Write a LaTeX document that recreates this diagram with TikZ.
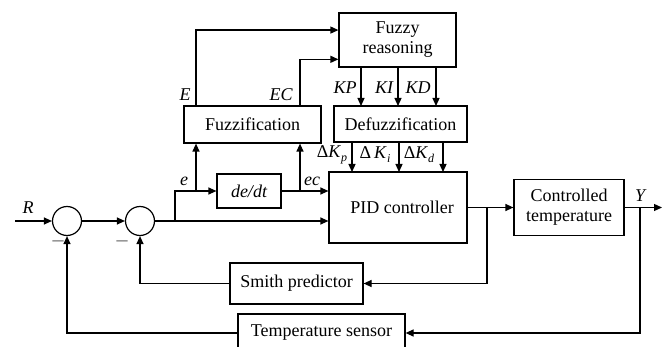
\documentclass[tikz,border=0pt]{standalone}
\usepackage{fontspec}
\setmainfont{Liberation Serif}
\usetikzlibrary{arrows.meta,calc}
\begin{document}
\begin{tikzpicture}[x=1pt,y=-1pt,
  every node/.style={font=\fontsize{18}{20}\selectfont},
  blk/.style={draw, line width=1.2pt, inner sep=0pt, align=center},
  sumc/.style={draw, line width=1.2pt, circle, minimum size=29pt, inner sep=0pt},
  con/.style={line width=1.2pt},
  arr/.style={line width=1.2pt, -{Triangle[length=8pt,width=7pt]}},
  lbl/.style={inner sep=0pt, font=\fontsize{18}{20}\selectfont\itshape}]
\clip (0,0) rectangle (666,347);
% blocks
\node[blk, minimum width=117pt, minimum height=54pt] (fr) at (397.5,40) {Fuzzy\\reasoning};
\node[blk, minimum width=137pt, minimum height=37pt] (fz) at (252.5,124.5) {Fuzzification};
\node[blk, minimum width=133pt, minimum height=36pt] (df) at (400.5,124) {Defuzzification};
\node[blk, minimum width=138pt, minimum height=71pt] (pid) at (398,207.5) {\hspace*{8pt}PID controller};
\node[blk, minimum width=110pt, minimum height=56pt] (ct) at (569,207.5) {Controlled\\temperature};
\node[blk, minimum width=64pt, minimum height=34pt, font=\fontsize{18}{20}\selectfont\itshape] (dd) at (249,191) {de/dt};
\node[blk, minimum width=133pt, minimum height=41pt] (sp) at (296.5,283.5) {Smith predictor};
\node[blk, minimum width=167pt, minimum height=38pt] (ts) at (321.5,333) {Temperature sensor};
\node[sumc] (s1) at (67,221) {};
\node[sumc] (s2) at (140,221) {};
% coordinates
\coordinate (rin) at (15,221);
\coordinate (b1) at (175,221);
\coordinate (be) at (196,191);
\coordinate (bec) at (300,191);
\coordinate (bu) at (487,207.5);
\coordinate (by) at (640,207.5);
\coordinate (yout) at (662,207.5);
% main path
\draw[arr] (rin) -- (s1.west);
\draw[arr] (s1.east) -- (s2.west);
\draw[arr] (s2.east) -- (s2.east -| pid.west);
\draw[arr] (b1) |- (dd.west);
\draw[arr] (dd.east) -- (dd.east -| pid.west);
\draw[arr] (be) -- (be |- fz.south);
\draw[arr] (bec) -- (bec |- fz.south);
\draw[arr] (be |- fz.north) |- ($(fr.north west)!0.32!(fr.south west)$);
\draw[arr] (bec |- fz.north) |- ($(fr.north west)!0.85!(fr.south west)$);
\foreach \x in {361,398,436} \draw[arr] (\x,67) -- (\x,106);
\foreach \x in {352,399,443} \draw[arr] (\x,142) -- (\x,172);
\draw[arr] (pid.east) -- (ct.west);
\draw[arr] (bu) |- (sp.east);
\draw[arr] (sp.west) -| (s2.south);
\draw[arr] (ct.east) -- (yout);
\draw[arr] (by) |- (ts.east);
\draw[arr] (ts.west) -| (s1.south);
% labels
\node[lbl] (lR) at (28,208) {R};
\node[lbl] (lY) at (640,196) {Y};
\node[inner sep=0pt, text=gray!80!black, font=\fontsize{22}{22}\selectfont] (m1) at (58,244) {–};
\node[inner sep=0pt, text=gray!80!black, font=\fontsize{22}{22}\selectfont] (m2) at (122,244) {–};
\node[lbl] (le) at (184,181) {e};
\node[lbl] (lec) at (312,181) {ec};
\node[lbl] (lE) at (185,95) {E};
\node[lbl] (lEC) at (281,95) {EC};
\node[lbl] (lKP) at (345,88) {KP};
\node[lbl] (lKI) at (384,88) {KI};
\node[lbl] (lKD) at (418,88) {KD};
\node[inner sep=0pt] (dkp) at (332,155) {Δ\textit{K}\raisebox{-4pt}{\fontsize{12}{12}\selectfont\textit{p}}};
\node[inner sep=0pt] (dki) at (375,155) {Δ\,\textit{K}\raisebox{-4pt}{\fontsize{12}{12}\selectfont\textit{i}}};
\node[inner sep=0pt] (dkd) at (419,155) {Δ\textit{K}\raisebox{-4pt}{\fontsize{12}{12}\selectfont\textit{d}}};
\end{tikzpicture}
\end{document}
